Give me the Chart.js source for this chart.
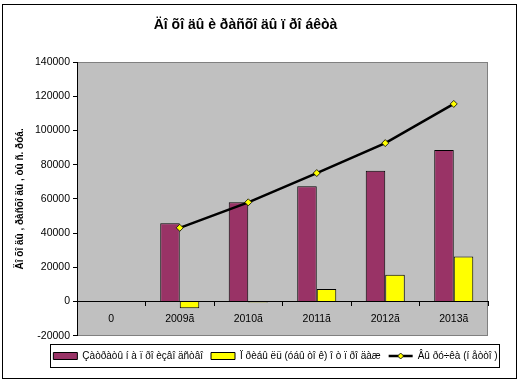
<!DOCTYPE html>
<html>
<head>
<meta charset="utf-8">
<script src="https://cdn.jsdelivr.net/npm/chart.js@4/dist/chart.umd.min.js"></script>
<style>
html,body{margin:0;padding:0;background:#fff;}
#wrap{width:520px;height:381px;position:relative;}
</style>
</head>
<body>
<div id="wrap"><canvas id="c" width="520" height="381"></canvas></div>
<script>
const categories = ['0', '2009ã', '2010ã', '2011ã', '2012ã', '2013ã'];
const costs = [null, 45700, 58000, 67400, 76500, 88600];
const profit = [null, -3900, -500, 7400, 15700, 26300];
const revenue = [null, 43100, 58000, 75100, 92600, 115500];
const seriesNames = ['Çàòðàòû í à ï ðî èçâî äñòâî', 'Ï ðèáû ëü (óáû òî ê) î ò ï ðî äàæ', 'Âû ðó÷êà (í åòòî )'];
const titleText = 'Äî õî äû è ðàñõî äû ï ðî áêòà';
const yTitle = 'Äî õî äû , ðàñõî äû , òû ñ. ðóá.';

const FONT = 'Liberation Sans, Arial, sans-serif';
Chart.defaults.font.family = FONT;
Chart.defaults.color = '#000';

const deco = {
  id: 'deco',
  afterLayout(chart) {
    const lg = chart.legend;
    if (lg) { lg.left += 30; lg.right += 30; }
  },
  beforeDraw(chart) {
    const {ctx, chartArea: a} = chart;
    ctx.save();
    ctx.fillStyle = '#fff';
    ctx.fillRect(0, 0, chart.width, chart.height);
    ctx.fillStyle = '#c0c0c0';
    ctx.fillRect(a.left, a.top, a.right - a.left, a.bottom - a.top);
    ctx.strokeStyle = '#808080';
    ctx.lineWidth = 1;
    ctx.strokeRect(Math.round(a.left) + 0.5, Math.round(a.top) + 0.5, Math.round(a.right - a.left) - 1, Math.round(a.bottom - a.top) - 1);
    ctx.restore();
  },
  afterDraw(chart) {
    const {ctx} = chart;
    ctx.save();
    ctx.strokeStyle = '#000';
    ctx.lineWidth = 1;
    ctx.strokeRect(2.5, 4.5, 514, 374);
    ctx.strokeRect(50.5, 344.5, 449, 23);
    const lg = chart.legend;
    if (lg && lg.legendHitBoxes && lg.legendHitBoxes[2]) {
      const hb = lg.legendHitBoxes[2];
      const cx = hb.left + 12, cy = hb.top + hb.height / 2;
      ctx.beginPath();
      ctx.moveTo(cx, cy - 3); ctx.lineTo(cx + 3, cy); ctx.lineTo(cx, cy + 3); ctx.lineTo(cx - 3, cy); ctx.closePath();
      ctx.fillStyle = '#ffff00';
      ctx.fill();
      ctx.lineWidth = 0.8;
      ctx.stroke();
    }
    ctx.restore();
  }
};

new Chart(document.getElementById('c'), {
  type: 'bar',
  data: {
    labels: categories,
    datasets: [
      {
        type: 'line', label: seriesNames[2], data: revenue, order: 0,
        borderColor: '#000', backgroundColor: '#ffff00', borderWidth: 2.5,
        pointStyle: 'rectRot', pointRadius: 3.5, pointBorderColor: '#000', pointBorderWidth: 0.8,
        pointBackgroundColor: '#ffff00', tension: 0, spanGaps: false
      },
      {
        label: seriesNames[0], data: costs, order: 1,
        backgroundColor: '#993366', borderColor: '#000', borderWidth: 1,
        categoryPercentage: 0.57, barPercentage: 1
      },
      {
        label: seriesNames[1], data: profit, order: 2,
        backgroundColor: '#ffff00', borderColor: '#000', borderWidth: 1,
        categoryPercentage: 0.57, barPercentage: 1
      }
    ]
  },
  options: {
    responsive: false,
    animation: false,
    layout: { padding: { top: 4, left: 3, right: 32, bottom: 10 } },
    plugins: {
      title: {
        display: true, text: titleText, color: '#000',
        font: { size: 14, weight: 'bold', family: FONT },
        padding: { top: 12.6, bottom: 28.6 }
      },
      legend: {
        position: 'bottom',
        title: { display: true, text: ' ', font: { size: 1 }, padding: { top: 0, bottom: 6 } },
        labels: {
          font: { size: 10, family: FONT },
          usePointStyle: true, pointStyleWidth: 24, boxHeight: 7, padding: 8,
          sort: (a, b) => [1, 2, 0].indexOf(a.datasetIndex) - [1, 2, 0].indexOf(b.datasetIndex),
          generateLabels(chart) {
            const items = Chart.defaults.plugins.legend.labels.generateLabels(chart);
            items.forEach(it => {
              if (it.datasetIndex === 0) {
                it.pointStyle = 'line'; it.strokeStyle = '#000'; it.lineWidth = 2.5;
              } else {
                it.pointStyle = 'rect'; it.lineWidth = 1; it.strokeStyle = '#000';
              }
            });
            return items;
          }
        }
      },
      tooltip: { enabled: false }
    },
    scales: {
      x: {
        position: { y: 0 },
        offset: true,
        grid: { offset: true, drawOnChartArea: false, drawTicks: true, tickLength: 4, color: '#000' },
        border: { display: true, color: '#000', width: 1 },
        ticks: { font: { size: 10.5, family: FONT }, color: '#000', padding: 7, maxRotation: 0 }
      },
      y: {
        min: -20000, max: 140000,
        afterFit(s) { s.width = 74; },
        grid: { drawOnChartArea: false, drawTicks: true, tickLength: 4, color: '#000' },
        border: { display: true, color: '#000', width: 1 },
        ticks: { stepSize: 20000, font: { size: 10.5, family: FONT }, color: '#000', padding: 3,
          callback: v => String(v) },
        title: { display: true, text: yTitle, color: '#000',
          font: { size: 10, weight: 'bold', family: FONT }, padding: { top: 11, bottom: 0 } }
      }
    }
  },
  plugins: [deco]
});
</script>
</body>
</html>
